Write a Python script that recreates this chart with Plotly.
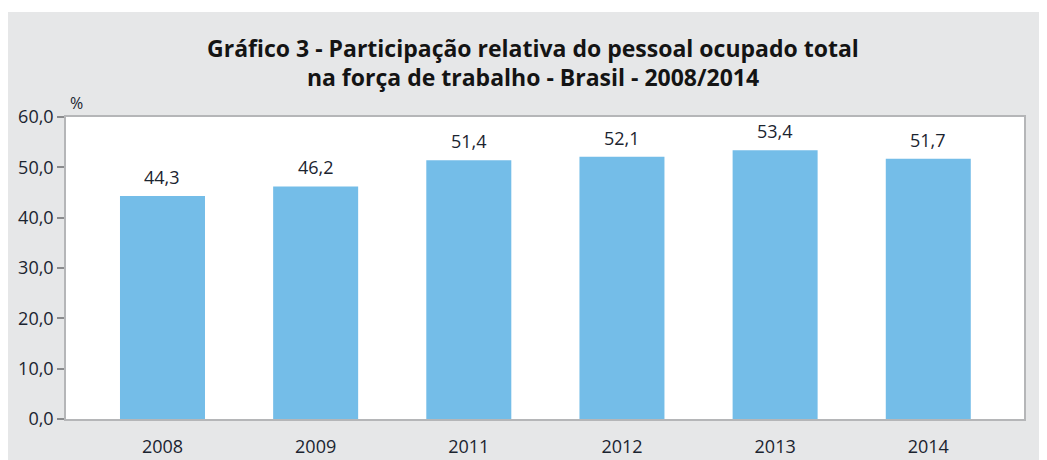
import plotly.graph_objects as go

years = ["2008", "2009", "2011", "2012", "2013", "2014"]
values = [44.3, 46.2, 51.4, 52.1, 53.4, 51.7]
y_ticks = [0, 10, 20, 30, 40, 50, 60]

# page has an 8px body margin, so the figure is drawn from (8, 8)
W, H = 1039, 452
L, R, T, B = 58, 23, 109, 41
pw, ph = W - L - R, H - T - B

def px_x(px):
    return (px - L) / pw

def px_y(py):
    return (H - B - py) / ph

text_col = "#1b2430"
bg = "#e6e7e8"
line_col = "#b5b6b8"
FONT = "Open Sans, Liberation Sans, Arial, sans-serif"

fig = go.Figure()
fig.add_trace(go.Bar(
    x=list(range(len(years))), y=values,
    marker=dict(color="#74bde8", line=dict(width=0)),
    width=0.555,
    hoverinfo="skip",
))

for i, v in enumerate(values):
    fig.add_annotation(x=i, y=v, text=f"{v:.1f}".replace(".", ","),
                       showarrow=False, yanchor="bottom", yshift=5,
                       font=dict(size=18, color=text_col))

fig.add_annotation(xref="paper", yref="paper", x=px_x(60), y=1,
                   text="%", showarrow=False, xanchor="left", yanchor="bottom",
                   yshift=1, font=dict(size=16, color=text_col))

# white strip at the top
fig.add_shape(type="rect", xref="paper", yref="paper", layer="below",
              x0=px_x(0), x1=px_x(W), y0=px_y(4), y1=px_y(0),
              fillcolor="white", line=dict(width=0))

fig.update_layout(
    width=W, height=H,
    margin=dict(l=L, r=R, t=T, b=B, autoexpand=False),
    paper_bgcolor=bg, plot_bgcolor="white",
    separators=",.",
    showlegend=False,
    font=dict(family=FONT, color=text_col),
    title=dict(
        text="<b>Gráfico 3 - Participação relativa do pessoal ocupado total<br>na força de trabalho - Brasil - 2008/2014</b>",
        x=525 / W, xanchor="center", y=1 - 48.5 / H, yanchor="middle",
        font=dict(size=23, color="#141414", family=FONT, weight=800),
    ),
    xaxis=dict(
        tickmode="array", tickvals=list(range(len(years))), ticktext=years,
        range=[-0.63, 5.625], showgrid=False, zeroline=False,
        showline=True, linecolor=line_col, linewidth=1.5, mirror=True,
        ticks="", ticklabelstandoff=11,
        tickfont=dict(size=18, color=text_col),
    ),
    yaxis=dict(
        range=[0, 60], tickvals=y_ticks, tickformat=".1f",
        showgrid=False, zeroline=False,
        showline=True, linecolor=line_col, linewidth=1.5, mirror=True,
        ticks="outside", ticklen=7, tickcolor="#8a8b8d", tickwidth=1.5,
        tickfont=dict(size=18, color=text_col),
    ),
)

fig.write_html("out.html")
